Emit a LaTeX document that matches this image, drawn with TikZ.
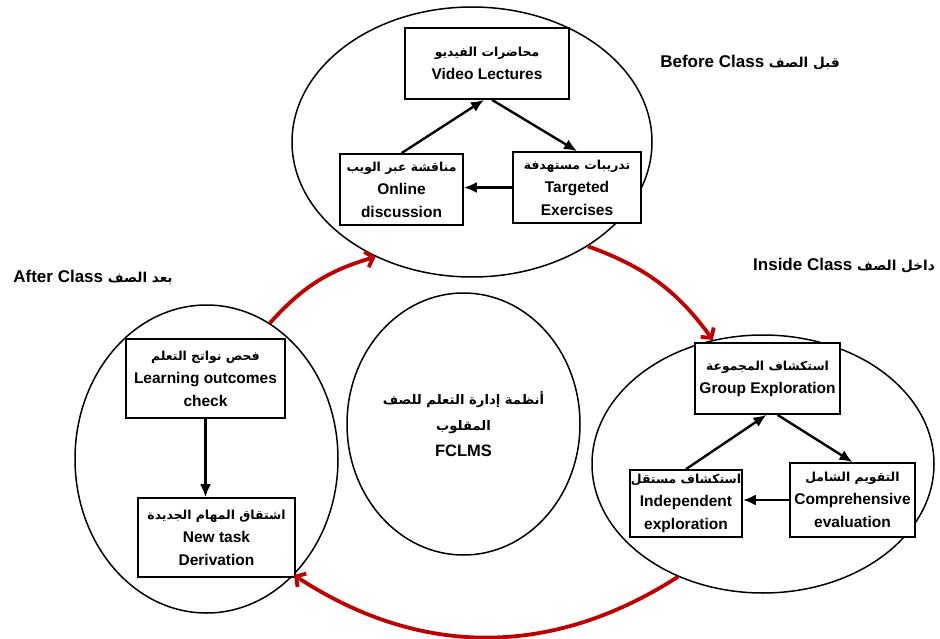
\documentclass[tikz,border=0pt]{standalone}
\usepackage{fontspec}
\setmainfont{Liberation Sans}
\newfontfamily\arabicfont[Script=Arabic,Scale=0.8]{DejaVu Sans}
\TeXXeTstate=1
\newcommand{\artxt}[1]{{\arabicfont\beginR #1\endR}}
\definecolor{arrowred}{RGB}{192,0,0}
\usetikzlibrary{arrows.meta,shapes.geometric}

\begin{document}
\begin{tikzpicture}[x=1pt,y=-1pt]
            \tikzset{box/.style = {shape=rectangle,draw,fill=white,line width=1.7pt,align=center,inner sep=1pt,
                font=\bfseries\fontsize{15.5}{23}\selectfont}}
            \tikzset{phase/.style = {shape=ellipse,draw,line width=1.5pt,inner sep=0pt,align=center,
                font=\bfseries\fontsize{16.5}{26}\selectfont}}
            \tikzset{lbl/.style = {inner sep=0pt,font=\bfseries\fontsize{17}{20}\selectfont}}
            \tikzset{edge/.style = {-{Latex[length=13pt,width=11pt]},line width=2.4pt}}
            \tikzset{flow/.style = {-{Straight Barb[length=7pt,width=16pt]},line width=3.8pt,draw=arrowred}}
            \useasboundingbox (0,0) rectangle (940,639);

            % the three phases and the system in the middle
            \node[phase,minimum width=360pt,minimum height=270pt] (bef) at (472,142) {};
            \node[phase,minimum width=263pt,minimum height=308pt] (aft) at (206.5,459) {};
            \node[phase,minimum width=342pt,minimum height=258pt] (ins) at (763,464) {};
            \node[phase,minimum width=233pt,minimum height=262pt] (sys) at (463.5,424)
                {\artxt{أنظمة إدارة التعلم للصف}\\\artxt{المقلوب}\\FCLMS};

            \node[lbl] (befl) at (750,63) {Before Class \artxt{قبل الصف}};
            \node[lbl] (aftl) at (93,278) {After Class \artxt{بعد الصف}};
            \node[lbl,anchor=west] (insl) at (753,266) {Inside Class \artxt{داخل الصف}};

            % before class
            \node[box,minimum width=164pt,minimum height=71pt] (vid) at (487,63.5) {\artxt{محاضرات الفيديو}\\Video Lectures};
            \node[box,minimum width=123pt,minimum height=71pt] (onl) at (401.5,189.5) {\artxt{مناقشة عبر الويب}\\Online\\discussion};
            \node[box,minimum width=128pt,minimum height=71pt] (tgt) at (577,187.5) {\artxt{تدريبات مستهدفة}\\Targeted\\Exercises};

            % after class
            \node[box,minimum width=159pt,minimum height=79pt] (lrn) at (205.5,378.5) {\artxt{فحص نواتج التعلم}\\Learning outcomes\\check};
            \node[box,minimum width=157pt,minimum height=79pt] (ntd) at (216.5,537.5) {\artxt{اشتقاق المهام الجديدة}\\New task\\Derivation};

            % inside class
            \node[box,minimum width=145pt,minimum height=71pt] (grp) at (767.5,378.5) {\artxt{استكشاف المجموعة}\\Group Exploration};
            \node[box,minimum width=106pt,minimum height=67pt] (ind) at (686,503.5) {\artxt{استكشاف مستقل}\\Independent\\exploration};
            \node[box,minimum width=125pt,minimum height=74pt] (cmp) at (852.5,500) {\artxt{التقويم الشامل}\\Comprehensive\\evaluation};

            \draw[edge] (onl.north) to ([xshift=-3pt]vid.south);
            \draw[edge] ([xshift=5pt]vid.south) to (tgt.north);
            \draw[edge] (tgt.west) to (tgt.west -| onl.east);
            \draw[edge] (lrn.south) to (lrn.south |- ntd.north);
            \draw[edge] (ind.north) to ([xshift=-1pt]grp.south);
            \draw[edge] ([xshift=10pt]grp.south) to (cmp.north);
            \draw[edge] (cmp.west) to (cmp.west -| ind.east);

            \draw[flow] (aft.65) to[bend left=16] (bef.230);
            \draw[flow] (bef.318) to[bend left=17] (ins.112);
            \draw[flow] (ins.233) to[bend left=33] (aft.307);
        \end{tikzpicture}
\end{document}
